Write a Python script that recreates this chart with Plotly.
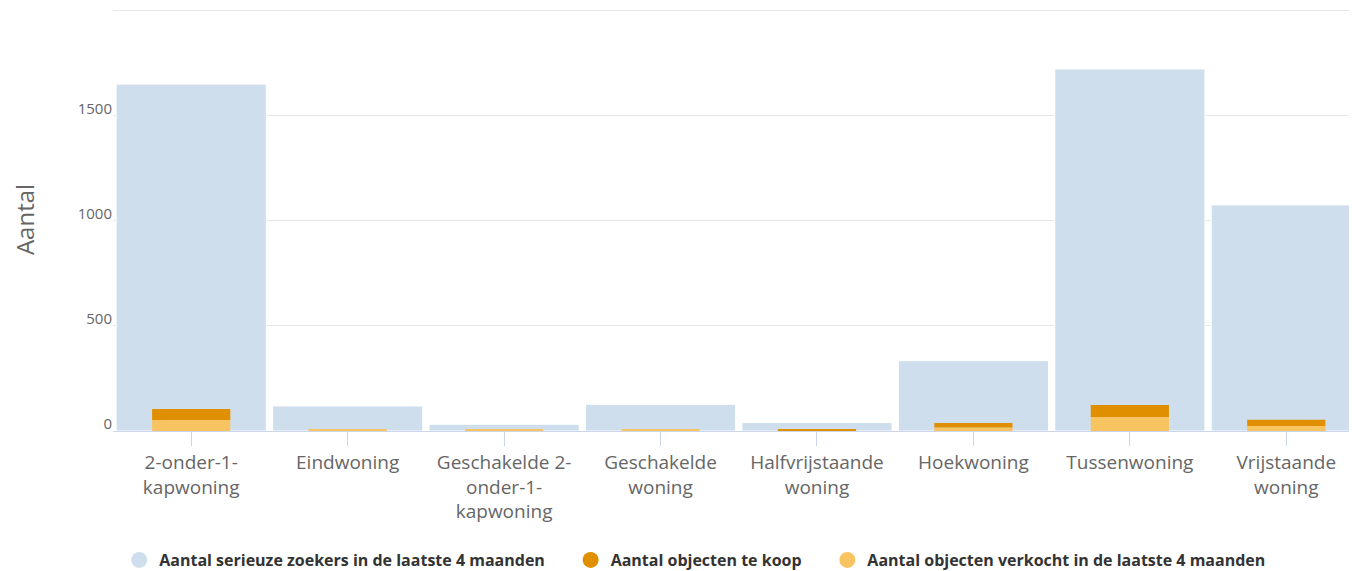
import plotly.graph_objects as go

categories = [
    "2-onder-1-<br>kapwoning",
    "Eindwoning",
    "Geschakelde 2-<br>onder-1-<br>kapwoning",
    "Geschakelde<br>woning",
    "Halfvrijstaande<br>woning",
    "Hoekwoning",
    "Tussenwoning",
    "Vrijstaande<br>woning",
]
zoekers = [1648, 119, 32, 127, 40, 334, 1720, 1074]
verkocht = [52, 6, 6, 6, 1, 17, 67, 24]
te_koop = [52, 0, 0, 0, 6, 21, 57, 29]

names = [
    "Aantal serieuze zoekers in de laatste 4 maanden",
    "Aantal objecten te koop",
    "Aantal objecten verkocht in de laatste 4 maanden",
]
colors = ["#cfdeed", "#e08f00", "#f8c462"]

FONT = "Open Sans"
PAD = "\u00a0" * 5  # extra ruimte tussen legenda-items

fig = go.Figure()

# brede blauwe kolommen
fig.add_trace(go.Bar(
    x=categories, y=zoekers, width=0.96, name=names[0],
    marker=dict(color=colors[0], line=dict(color="white", width=1)),
    showlegend=False,
))
# smalle oranje kolommen: verkocht onderaan, te koop erbovenop
fig.add_trace(go.Bar(
    x=categories, y=verkocht, width=0.5, name=names[2],
    marker=dict(color=colors[2], line=dict(width=0)),
    showlegend=False,
))
fig.add_trace(go.Bar(
    x=categories, y=te_koop, base=verkocht, width=0.5, name=names[1],
    marker=dict(color=colors[1], line=dict(width=0)),
    showlegend=False,
))

# legenda met ronde markers
for nm, c in zip(names, colors):
    fig.add_trace(go.Scatter(
        x=[None], y=[None], mode="markers", name=nm + PAD,
        marker=dict(symbol="circle", size=16, color=c),
    ))

# de pagina heeft 8px body-marge, dus figuur 8px kleiner
fig.update_layout(
    barmode="overlay",
    width=1349, height=563,
    margin=dict(l=105, r=0, t=0, b=140),
    paper_bgcolor="white", plot_bgcolor="white",
    font=dict(family=FONT, color="#666666"),
    showlegend=True,
    legend=dict(
        orientation="h",
        xref="paper", x=0.005, xanchor="left",
        yref="container", y=11 / 563, yanchor="middle",
        font=dict(family=FONT, size=16, color="#333333", weight="bold"),
    ),
)
fig.update_xaxes(
    type="category",
    range=[-0.5, 7.452],  # laatste kolom loopt net buiten beeld
    showgrid=False,
    showline=True, linecolor="#ccd6eb", linewidth=1,
    ticks="outside", ticklen=14, tickcolor="#ccd6eb",
    tickfont=dict(family=FONT, size=19, color="#666666"),
)
fig.update_yaxes(
    range=[0, 2009.5],
    tickvals=[0, 500, 1000, 1500, 2000],
    ticktext=["0", "500", "1000", "1500", ""],
    showgrid=True, gridcolor="#e6e6e6", gridwidth=1,
    zeroline=False,
    ticklabelshift=-7,
    tickfont=dict(family=FONT, size=15, color="#666666"),
    title=dict(text="Aantal", font=dict(family=FONT, size=24, color="#666666"), standoff=49),
)

fig.write_html("out.html")
